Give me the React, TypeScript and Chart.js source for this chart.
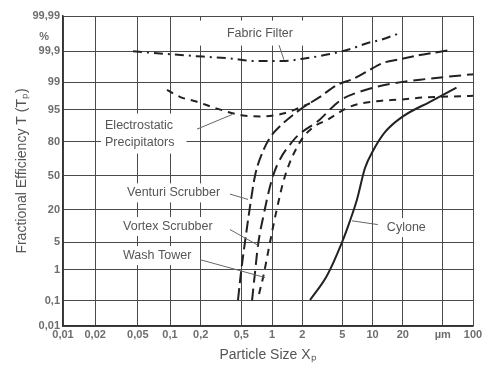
import React, { useEffect, useRef } from "react";
import { Chart, registerables, LogarithmicScale } from "chart.js";

// ---------- data ----------
const xTickValues = [0.01, 0.02, 0.05, 0.1, 0.2, 0.5, 1, 2, 5, 10, 20, 50, 100];
const xTickLabels = ["0,01", "0,02", "0,05", "0,1", "0,2", "0,5", "1", "2", "5", "10", "20", "µm", "100"];

const yTickValues = [0.01, 0.1, 1, 5, 20, 50, 80, 95, 99, 99.9, 99.96, 99.99];
const yTickLabels = ["0,01", "0,1", "1", "5", "20", "50", "80", "95", "99", "99,9", "%\u2003", "99,99"];

// [particle size µm, fractional efficiency %]
const fabricFilter = [
  [0.0451, 99.9], [0.0806, 99.88], [0.211, 99.845], [0.415, 99.817], [0.652, 99.78], [1.287, 99.78],
  [2.03, 99.817], [4.04, 99.88], [6.4, 99.917], [8.81, 99.939], [11.9, 99.95], [18.8, 99.968],
];
const electrostatic = [
  [0.0937, 98.35], [0.125, 97.5], [0.184, 96.7], [0.289, 95.25], [0.52, 93.3], [0.817, 93.0],
  [1.287, 93.9], [1.69, 95.0], [2.39, 96.43],
];
const venturi = [
  [0.464, 0.105], [0.496, 0.82], [0.543, 5], [0.602, 20], [0.681, 50], [0.835, 74.9], [0.978, 83.8],
  [1.2, 89.1], [1.9, 95], [3.0, 97.5], [4.43, 98.79], [6.4, 99.19], [8.81, 99.52], [12.7, 99.745],
  [18.8, 99.81], [29.7, 99.864], [56.4, 99.905],
];
const vortex = [
  [0.637, 0.1], [0.681, 0.82], [0.729, 4.3], [0.817, 15], [1.023, 50], [1.58, 80], [3.0, 91.95],
  [4.75, 96.9], [7.86, 98.24], [16.7, 98.93], [34.8, 99.19], [93.3, 99.4], [100, 99.41],
];
const washTower = [
  [0.746, 0.173], [0.817, 0.59], [0.956, 5], [1.096, 18], [1.347, 50], [1.9, 80], [2.5, 88.2],
  [3.61, 91.95], [5.97, 95.7], [12.4, 96.9], [17.9, 97.05], [31.8, 97.4], [79.4, 97.6], [100, 97.65],
];
const cyclone = [
  [2.39, 0.105], [3.53, 0.68], [4.97, 5], [5.97, 13.3], [7.01, 28], [8.42, 57.8], [10.1, 73.2],
  [13.3, 86.1], [20.1, 93.0], [37.3, 96.7], [68.5, 98.58],
];

// annotation labels: text lines, text left/centre anchor (µm, %), leader start and end (µm, %)
const labelTexts = [["Fabric Filter"], ["Electrostatic", "Precipitators"], ["Venturi Scrubber"], ["Vortex Scrubber"], ["Wash Tower"], ["Cylone"]];
const labelAnchors = [[0.362, 99.968], [0.0247, 85.3], [0.0397, 33.7], [0.0364, 10.5], [0.0364, 2.42], [13.9, 10.0]];
const leaderFrom = [[1.174, 99.931], [0.184, 87.7], [0.387, 32.7], [0.387, 9.2], [0.197, 1.9], [6.25, 13.3]];
const leaderTo = [[1.316, 99.8], [0.406, 93.6], [0.582, 28], [0.729, 4.3], [0.854, 0.59], [11.3, 11.4]];

// ---------- printed log grid (decades are not perfectly equal on the original paper) ----------
const DEC_FRAC = [0, 107 / 410, 209 / 410, 309.5 / 410, 1];
function warp(lv: number): number {
  const i = Math.min(3, Math.max(0, Math.floor(lv + 2)));
  const t = lv + 2 - i;
  return DEC_FRAC[i] + t * (DEC_FRAC[i + 1] - DEC_FRAC[i]);
}
function unwarp(f: number): number {
  let i = 0;
  while (i < 3 && f > DEC_FRAC[i + 1]) i++;
  const t = (f - DEC_FRAC[i]) / (DEC_FRAC[i + 1] - DEC_FRAC[i]);
  return i - 2 + t;
}
class GridLogScale extends LogarithmicScale {
  static id = "gridlog";
  static defaults = LogarithmicScale.defaults;
  getPixelForValue(value: any) {
    if (value === undefined || value === null || isNaN(value) || value <= 0) return NaN;
    return (this as any).getPixelForDecimal(warp(Math.log10(value)));
  }
  getValueForPixel(pixel: number) {
    return Math.pow(10, unwarp((this as any).getDecimalForPixel(pixel)));
  }
}
Chart.register(...registerables, GridLogScale as any);

// ---------- probability-paper transform ----------
function probit(p: number): number {
  const a = [-3.969683028665376e1, 2.209460984245205e2, -2.759285104469687e2, 1.38357751867269e2, -3.066479806614716e1, 2.506628277459239];
  const b = [-5.447609879822406e1, 1.615858368580409e2, -1.556989798598866e2, 6.680131188771972e1, -1.328068155288572e1];
  const c = [-7.784894002430293e-3, -3.223964580411365e-1, -2.400758277161838, -2.549732539343734, 4.374664141464968, 2.938163982698783];
  const d = [7.784695709041462e-3, 3.224671290700398e-1, 2.445134137142996, 3.754408661907416];
  const pl = 0.02425;
  if (p < pl) {
    const q = Math.sqrt(-2 * Math.log(p));
    return (((((c[0] * q + c[1]) * q + c[2]) * q + c[3]) * q + c[4]) * q + c[5]) / ((((d[0] * q + d[1]) * q + d[2]) * q + d[3]) * q + 1);
  }
  if (p > 1 - pl) {
    const q = Math.sqrt(-2 * Math.log(1 - p));
    return -(((((c[0] * q + c[1]) * q + c[2]) * q + c[3]) * q + c[4]) * q + c[5]) / ((((d[0] * q + d[1]) * q + d[2]) * q + d[3]) * q + 1);
  }
  const q = p - 0.5;
  const r = q * q;
  return ((((((a[0] * r + a[1]) * r + a[2]) * r + a[3]) * r + a[4]) * r + a[5]) * q) / (((((b[0] * r + b[1]) * r + b[2]) * r + b[3]) * r + b[4]) * r + 1);
}
const Z999 = probit(0.999);
const TOP_STRETCH = 1.39; // the printed grid stretches the 99.9–99.99 band
function yPos(T: number): number {
  const z = probit(T / 100);
  return z > Z999 ? Z999 + (z - Z999) * TOP_STRETCH : z;
}
const toPts = (arr: number[][]) => arr.map(([x, t]) => ({ x, y: yPos(t) }));

const INK = "#222";
const GRID = "#4a4a4a";
const TEXT = "#555";
const TICK = "#6e6e6e";
const FONT = "'Liberation Sans', Arial, sans-serif";

// label box paddings [left, right, top/bottom] in px
const boxPad = [[34, 48, 4], [4, 12, 3], [4, 6, 1], [4, 6, 1], [4, 6, 1], [4, 4, 1]];

export default function App() {
  const ref = useRef<HTMLCanvasElement | null>(null);
  useEffect(() => {
    document.body.style.margin = "0";
    const canvas = ref.current!;
    const ds = (label: string, arr: number[][], dash: number[], width = 2) => ({
      label,
      data: toPts(arr),
      borderColor: INK,
      borderWidth: width,
      borderDash: dash,
      pointRadius: 0,
      cubicInterpolationMode: "monotone" as const,
      fill: false,
    });

    const labelPlugin = {
      id: "labels",
      afterDatasetsDraw(chart: any) {
        const { ctx, scales } = chart;
        const xs = scales.x, ys = scales.y;
        ctx.save();
        ctx.font = `12.5px ${FONT}`;
        ctx.textBaseline = "middle";
        labelTexts.forEach((lines, i) => {
          const ax = xs.getPixelForValue(labelAnchors[i][0]);
          const ay = ys.getPixelForValue(yPos(labelAnchors[i][1]));
          const w = Math.max(...lines.map((l) => ctx.measureText(l).width));
          const lh = 17;
          const h = lines.length * lh;
          const [pl, pr, pv] = boxPad[i];
          ctx.fillStyle = "#fff";
          ctx.fillRect(ax - pl, ay - h / 2 - pv, w + pl + pr, h + 2 * pv);
          const fx = xs.getPixelForValue(leaderFrom[i][0]);
          const fy = ys.getPixelForValue(yPos(leaderFrom[i][1]));
          const tx = xs.getPixelForValue(leaderTo[i][0]);
          const ty = ys.getPixelForValue(yPos(leaderTo[i][1]));
          ctx.strokeStyle = "#666";
          ctx.lineWidth = 1;
          ctx.setLineDash([]);
          ctx.beginPath();
          ctx.moveTo(fx, fy);
          ctx.lineTo(tx, ty);
          ctx.stroke();
          ctx.fillStyle = TEXT;
          ctx.textAlign = "left";
          lines.forEach((l, k) => ctx.fillText(l, ax, ay - h / 2 + lh / 2 + k * lh));
        });
        ctx.restore();
      },
    };

    const chart = new Chart(canvas, {
      type: "line",
      data: {
        datasets: [
          ds("Fabric Filter", fabricFilter, [9, 5, 2, 5]),
          ds("Electrostatic Precipitators", electrostatic, [7, 6]),
          ds("Venturi Scrubber", venturi, [12, 5]),
          ds("Vortex Scrubber", vortex, [12, 6]),
          ds("Wash Tower", washTower, [7, 6]),
          ds("Cylone", cyclone, []),
        ],
      },
      options: {
        animation: false,
        responsive: false,
        maintainAspectRatio: false,
        layout: { padding: { top: 16, right: 21, left: 14, bottom: 6 } },
        plugins: { legend: { display: false }, tooltip: { enabled: false } },
        scales: {
          x: {
            type: "gridlog" as any,
            min: 0.01,
            max: 100,
            afterBuildTicks: (axis: any) => {
              axis.ticks = xTickValues.map((v) => ({ value: v }));
            },
            ticks: {
              autoSkip: false,
              maxRotation: 0,
              padding: 2,
              color: TICK,
              font: { family: FONT, size: 11, weight: "bold" },
              callback: (v: any) => {
                const i = xTickValues.indexOf(Number(v));
                return i >= 0 ? xTickLabels[i] : "";
              },
            },
            grid: { color: GRID, lineWidth: 1, drawTicks: false },
            border: { color: "#333", width: 1.5 },
            title: {
              display: true,
              text: "Particle Size Xₚ",
              color: TEXT,
              font: { family: FONT, size: 14 },
              padding: { top: 4, bottom: 0 },
            },
          },
          y: {
            type: "linear",
            min: yPos(0.01),
            max: yPos(99.99),
            afterBuildTicks: (axis: any) => {
              axis.ticks = yTickValues.map((v) => ({ value: yPos(v) }));
            },
            afterFit: (axis: any) => {
              axis.width = 49;
            },
            ticks: {
              autoSkip: false,
              padding: 3,
              color: TICK,
              font: { family: FONT, size: 11, weight: "bold" },
              callback: (_v: any, i: number) => yTickLabels[i],
            },
            grid: {
              color: (c: any) => (c.index === 10 ? "rgba(0,0,0,0)" : GRID),
              lineWidth: 1,
              drawTicks: false,
            },
            border: { color: "#333", width: 1.5 },
            title: {
              display: true,
              text: "Fractional Efficiency T (Tₚ)",
              color: TEXT,
              font: { family: FONT, size: 14 },
              padding: { top: 0, bottom: 4 },
            },
          },
        },
      },
      plugins: [labelPlugin],
    });
    return () => chart.destroy();
  }, []);
  return (
    <div style={{ width: 494, height: 370, background: "#fff" }}>
      <canvas ref={ref} width={494} height={370} />
    </div>
  );
}
